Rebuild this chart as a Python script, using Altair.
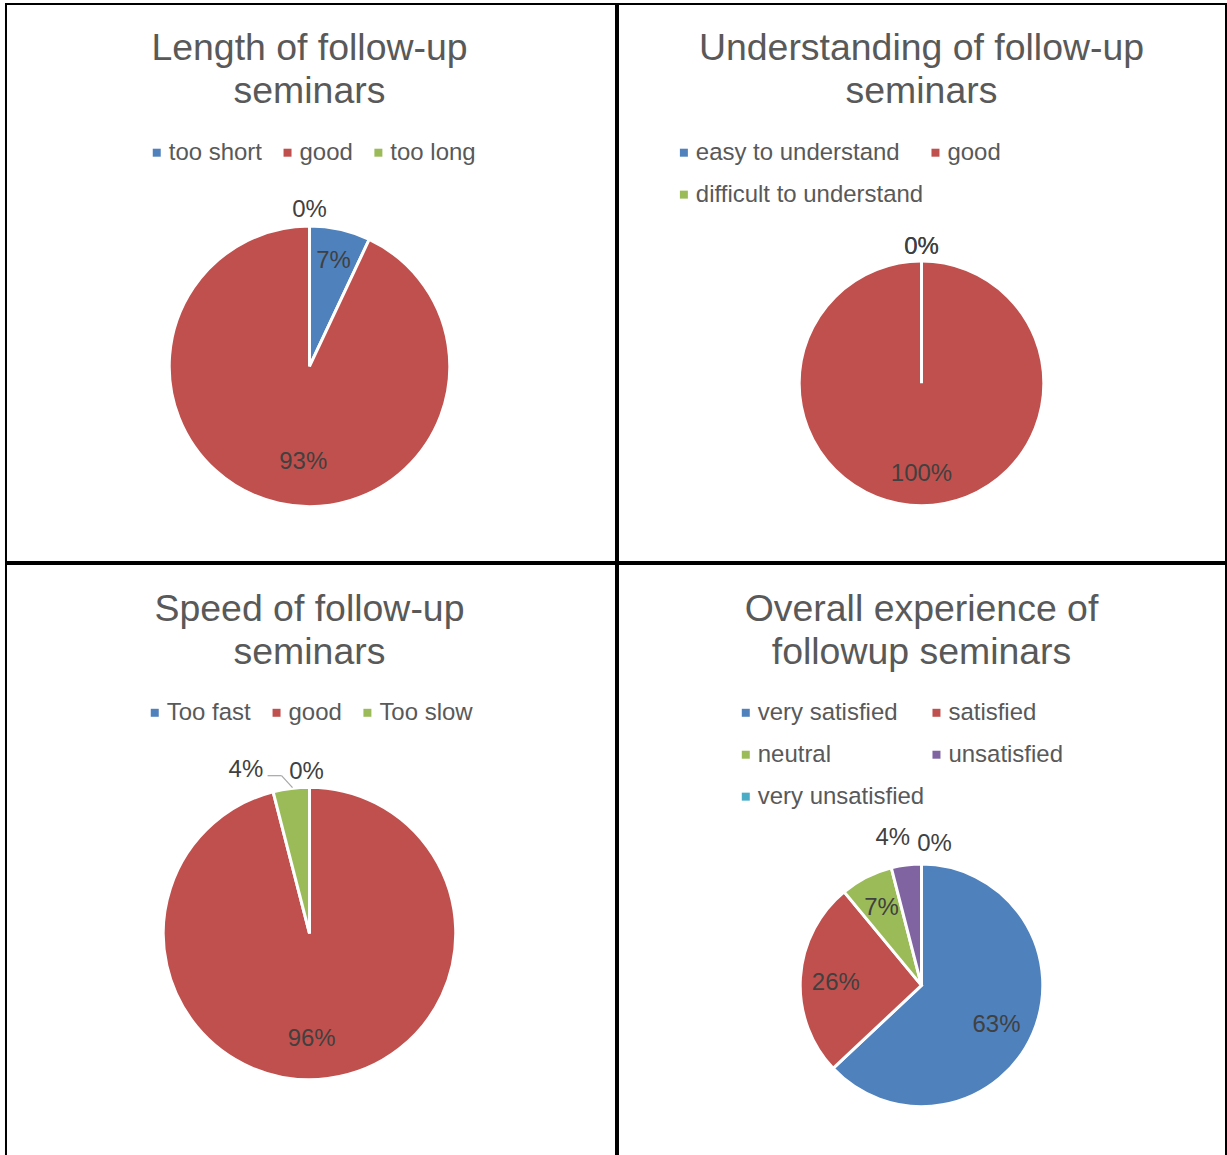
import altair as alt
import pandas as pd

# ---------------- data ----------------
len_title = "Length of follow-up\nseminars"
len_cats = ["too short", "good", "too long"]
len_vals = [7, 93, 0]

und_title = "Understanding of follow-up\nseminars"
und_cats = ["easy to understand", "good", "difficult to understand"]
und_vals = [0, 100, 0]

spd_title = "Speed of follow-up\nseminars"
spd_cats = ["Too fast", "good", "Too slow"]
spd_vals = [0, 96, 4]

ovr_title = "Overall experience of\nfollowup seminars"
ovr_cats = ["very satisfied", "satisfied", "neutral", "unsatisfied", "very unsatisfied"]
ovr_vals = [63, 26, 7, 4, 0]

# ---------------- style ----------------
PALETTE = ["#4F81BD", "#C0504D", "#9BBB59", "#8064A2", "#4BACC6"]
FONT = "Liberation Sans"
TITLE_COLOR = "#595959"
LABEL_COLOR = "#404040"


def panel(title, cats, vals, w, h, cx, cy, r, lx, ly, cols, colpad,
          label_pos, title_y, leader=None):
    """label_pos: per category (radius, dx, dy) for the percentage label."""
    n = len(cats)
    df = pd.DataFrame({
        "cat": cats,
        "val": vals,
        "idx": list(range(n)),
        "pct": [f"{v}%" for v in vals],
    })
    base = alt.Chart(df).encode(
        theta=alt.Theta("val:Q", stack=True),
        order=alt.Order("idx:Q"),
        x=alt.value(cx),
        y=alt.value(cy),
    )
    arcs = base.mark_arc(outerRadius=r, stroke="white", strokeWidth=3).encode(
        color=alt.Color(
            "cat:N",
            sort=cats,
            scale=alt.Scale(domain=cats, range=PALETTE[:n]),
            legend=alt.Legend(
                orient="none", legendX=lx, legendY=ly,
                direction="horizontal", columns=cols,
                title=None, symbolType="square", symbolSize=64,
                symbolStrokeWidth=0, labelFont=FONT, labelFontSize=24,
                labelColor=TITLE_COLOR, columnPadding=colpad,
                rowPadding=18, labelOffset=0, labelLimit=500,
            ),
        )
    )
    layers = [arcs]
    groups = {}
    for c, pos in zip(cats, label_pos):
        groups.setdefault(tuple(pos), []).append(c)
    for (rad, dx, dy), members in groups.items():
        layers.append(
            base.mark_text(fontSize=24, font=FONT, color=LABEL_COLOR,
                           radius=rad, dx=dx, dy=dy).encode(
                detail="cat:N",
                text=alt.condition(
                    alt.FieldOneOfPredicate(field="cat", oneOf=members),
                    alt.Text("pct:N"), alt.value("")),
            )
        )
    tdf = pd.DataFrame({"title": [title]})
    layers.append(
        alt.Chart(tdf).mark_text(
            fontSize=37.5, font=FONT, color=TITLE_COLOR, align="center",
            baseline="alphabetic", lineBreak="\n", lineHeight=43,
        ).encode(x=alt.value(304), y=alt.value(title_y), text="title:N")
    )
    if leader:
        ldf = pd.DataFrame({"k": [0]})
        for (x1, y1, x2, y2) in leader:
            layers.append(
                alt.Chart(ldf).mark_rule(color="#A6A6A6", strokeWidth=1.2).encode(
                    x=alt.value(x1), y=alt.value(y1),
                    x2=alt.value(x2), y2=alt.value(y2))
            )
    return alt.layer(*layers).properties(width=w, height=h)


A = panel(len_title, len_cats, len_vals, 611, 559, 304, 363, 140.5,
          139, 137, 3, 13,
          [(110, 0, 2), (93, 14, 5), (159, 0, 2)], 56)
B = panel(und_title, und_cats, und_vals, 609, 559, 304, 380, 122.5,
          54, 137, 2, -2,
          [(139, 0, 2), (89, 0, 2), (139, 0, 2)], 56)
C = panel(spd_title, spd_cats, spd_vals, 611, 600, 304, 370, 146.5,
          137, 137, 3, 13,
          [(163, -3, 1), (105, -11, 2), (165, -43, 0)], 57,
          leader=[(262, 212, 276, 212), (276, 212, 287, 224)])
D = panel(ovr_title, ovr_cats, ovr_vals, 609, 600, 304, 422, 121.5,
          116, 137, 2, -3,
          [(84, -2, 6), (86, 0, 3), (88, 0, 1), (150, -10, 1), (143, 13, 1)], 57)

top = alt.hconcat(A, B, spacing=0).resolve_scale(color="independent", theta="independent").resolve_legend(color="independent")
bottom = alt.hconcat(C, D, spacing=0).resolve_scale(color="independent", theta="independent").resolve_legend(color="independent")

chart = alt.vconcat(top, bottom, spacing=0).resolve_scale(
    color="independent", theta="independent"
).resolve_legend(color="independent").properties(
    padding={"left": 5, "top": 2, "right": 0, "bottom": 0},
    background="white",
).configure_view(stroke="black", strokeWidth=2)

chart.save("out.html", embed_options={"renderer": "svg", "actions": False})
